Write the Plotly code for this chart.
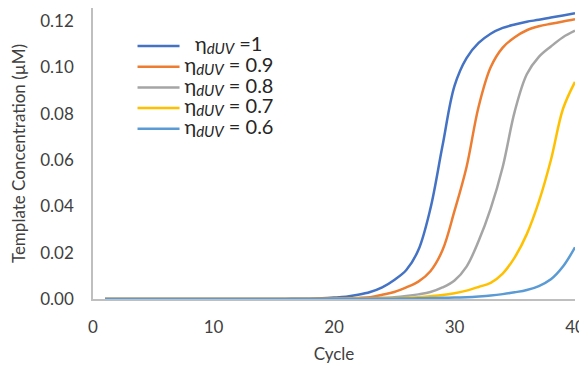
import plotly.graph_objects as go

cycles = list(range(1, 41))

eta_1 = [0.00000, 0.00000, 0.00000, 0.00000, 0.00000, 0.00000, 0.00000, 0.00000, 0.00000, 0.00000,
         0.00000, 0.00000, 0.00001, 0.00001, 0.00002, 0.00004, 0.00008, 0.00015, 0.00030, 0.00060,
         0.00100, 0.00180, 0.00300, 0.00500, 0.00820, 0.01250, 0.02110, 0.03900, 0.06600, 0.09200,
         0.10400, 0.11050, 0.11450, 0.11700, 0.11850, 0.11970, 0.12050, 0.12150, 0.12240, 0.12330]
eta_09 = [0.00000, 0.00000, 0.00000, 0.00000, 0.00000, 0.00000, 0.00000, 0.00000, 0.00000, 0.00000,
          0.00000, 0.00000, 0.00000, 0.00000, 0.00001, 0.00002, 0.00003, 0.00005, 0.00008, 0.00014,
          0.00025, 0.00045, 0.00080, 0.00180, 0.00300, 0.00500, 0.00750, 0.01200, 0.02100, 0.03800,
          0.05700, 0.08300, 0.10000, 0.10850, 0.11300, 0.11600, 0.11770, 0.11880, 0.11980, 0.12070]
eta_08 = [0.00000, 0.00000, 0.00000, 0.00000, 0.00000, 0.00000, 0.00000, 0.00000, 0.00000, 0.00000,
          0.00000, 0.00000, 0.00000, 0.00000, 0.00000, 0.00001, 0.00001, 0.00002, 0.00004, 0.00007,
          0.00012, 0.00020, 0.00032, 0.00050, 0.00080, 0.00130, 0.00200, 0.00300, 0.00500, 0.00800,
          0.01400, 0.02500, 0.03900, 0.05700, 0.08100, 0.09700, 0.10450, 0.10900, 0.11300, 0.11580]
eta_07 = [0.00000, 0.00000, 0.00000, 0.00000, 0.00000, 0.00000, 0.00000, 0.00000, 0.00000, 0.00000,
          0.00000, 0.00000, 0.00000, 0.00000, 0.00000, 0.00000, 0.00001, 0.00001, 0.00002, 0.00003,
          0.00005, 0.00008, 0.00013, 0.00020, 0.00032, 0.00050, 0.00080, 0.00120, 0.00170, 0.00250,
          0.00360, 0.00520, 0.00700, 0.01100, 0.01800, 0.02800, 0.04200, 0.06000, 0.08200, 0.09370]
eta_06 = [0.00000, 0.00000, 0.00000, 0.00000, 0.00000, 0.00000, 0.00000, 0.00000, 0.00000, 0.00000,
          0.00000, 0.00000, 0.00000, 0.00000, 0.00000, 0.00000, 0.00000, 0.00001, 0.00001, 0.00002,
          0.00003, 0.00005, 0.00007, 0.00010, 0.00015, 0.00021, 0.00030, 0.00040, 0.00050, 0.00060,
          0.00080, 0.00110, 0.00150, 0.00210, 0.00290, 0.00390, 0.00560, 0.00850, 0.01400, 0.02230]

ETA = '<span style="font-size:20px">η</span><sub><i><span style="font-size:15px">dUV</span></i></sub>'
series_names = ['&nbsp;&nbsp;&nbsp;' + ETA + '<span style="font-size:20px"> =1</span>',
                ETA + '<span style="font-size:20px"> = 0.9</span>',
                ETA + '<span style="font-size:20px"> = 0.8</span>',
                ETA + '<span style="font-size:20px"> = 0.7</span>',
                ETA + '<span style="font-size:20px"> = 0.6</span>']
series_values = [eta_1, eta_09, eta_08, eta_07, eta_06]
series_colors = ["#4472C4", "#ED7D31", "#A5A5A5", "#FFC000", "#5B9BD5"]

x_ticks = [0, 10, 20, 30, 40]
y_ticks = [0.00, 0.02, 0.04, 0.06, 0.08, 0.10, 0.12]

fig = go.Figure()
for name, vals, col in zip(series_names, series_values, series_colors):
    fig.add_trace(go.Scatter(x=cycles, y=vals, mode="lines", name=name,
                             line=dict(color=col, width=2.5, shape="spline", smoothing=1.0)))

font_family = "Lato, 'Open Sans', sans-serif"
fig.update_layout(
    width=587, height=366,
    margin=dict(l=85, r=20, t=0, b=75, autoexpand=False),
    paper_bgcolor="white", plot_bgcolor="white",
    font=dict(family=font_family, size=17, color="#404040"),
    showlegend=True,
    legend=dict(x=0.082, y=0.922, xanchor="left", yanchor="top",
                bgcolor="rgba(0,0,0,0)", font=dict(size=13.6, color="#262626"),
                tracegroupgap=0, itemwidth=42),
    xaxis=dict(range=[0, 40], tickvals=x_ticks, showgrid=False, zeroline=False,
               showline=True, linecolor="#BFBFBF", linewidth=1.5, automargin=False,
               ticks="", ticklabelstandoff=12,
               tickfont=dict(size=17, color="#404040"),
               title=dict(text="Cycle", font=dict(size=17, color="#404040"), standoff=12)),
    yaxis=dict(range=[0, 0.1256], tickvals=y_ticks, tickformat=".2f", showgrid=False,
               zeroline=False, showline=True, linecolor="#BFBFBF", linewidth=1.5,
               automargin=False, ticks="", ticklabelstandoff=14,
               tickfont=dict(size=17, color="#404040"),
               title=dict(text="Template Concentration (µM)",
                          font=dict(size=17, color="#404040"), standoff=11)),
)

fig.write_html("out.html")
